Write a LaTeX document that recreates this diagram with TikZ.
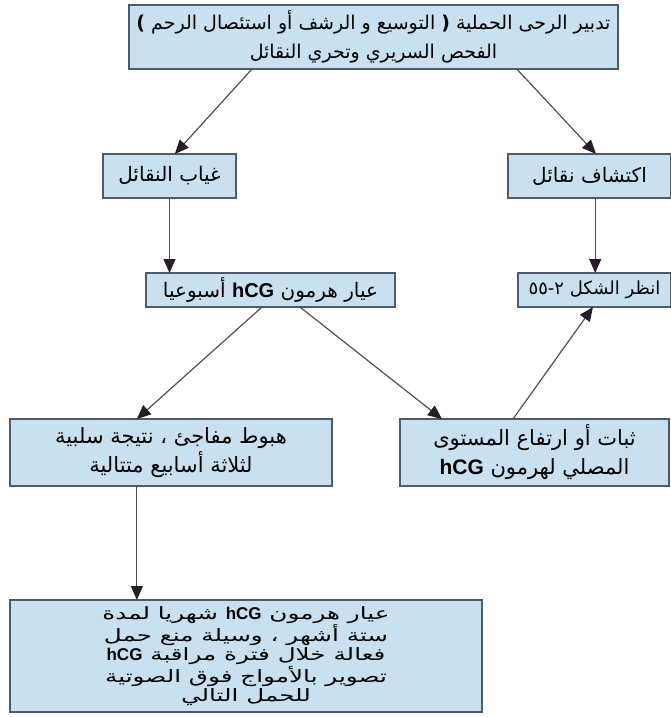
\documentclass[tikz,border=0pt]{standalone}
\usepackage{fontspec}
\setmainfont{DejaVu Sans}
\newfontfamily\arabicfont[Script=Arabic]{DejaVu Sans}
\newfontfamily\widearabic[Script=Arabic,FakeStretch=1.45]{DejaVu Sans}
\newfontfamily\latinsans{Liberation Sans}
\TeXXeTstate=1
\usetikzlibrary{arrows.meta,calc}

\definecolor{boxfill}{RGB}{200,224,239}
\definecolor{boxline}{RGB}{78,92,106}
\definecolor{linkline}{RGB}{80,80,84}
\definecolor{tipfill}{RGB}{40,28,40}

% right-to-left line and bold Latin hormone name
\newcommand\rl[1]{\beginR #1\endR}
\newcommand\hcg{\beginL{\latinsans\bfseries hCG}\endL}

\tikzset{
  flowbox/.style={draw=boxline, line width=1.3pt, fill=boxfill,
    inner sep=0pt, outer sep=0pt, anchor=north west, align=center},
  bigtext/.style={font=\arabicfont\fontsize{19}{29}\selectfont},
  midtext/.style={font=\arabicfont\fontsize{20}{29}\selectfont},
  pairtext/.style={font=\arabicfont\fontsize{21}{29}\selectfont},
  figtext/.style={font=\arabicfont\fontsize{18}{26}\selectfont},
  smalltext/.style={font=\widearabic\fontsize{17}{19.5}\selectfont},
  link/.style={draw=linkline, line width=1.2pt,
    -{Triangle[width=12pt,length=14pt,color=tipfill]}},
}

\begin{document}
\begin{tikzpicture}[x=1pt,y=-1pt]
\useasboundingbox (0,0) rectangle (670,717);

% boxes: top-left corner, then size
\node[flowbox, bigtext, minimum width=489pt, minimum height=64pt] (top) at (129,5)
  {\rl{تدبير الرحى الحملية {\bfseries (} التوسيع و الرشف أو استئصال الرحم {\bfseries )}}\\
   \rl{الفحص السريري وتحري النقائل}};

\node[flowbox, midtext, minimum width=133pt, minimum height=44pt] (absent) at (103,154)
  {\rl{غياب النقائل}};
\node[flowbox, midtext, minimum width=163pt, minimum height=44pt] (detect) at (508,154)
  {\rl{اكتشاف نقائل}};

\node[flowbox, midtext, minimum width=249pt, minimum height=34pt] (weekly) at (146,273)
  {\rl{عيار هرمون \hcg{} أسبوعيا}};
\node[flowbox, figtext, minimum width=153pt, minimum height=34pt] (seefig) at (518,273)
  {\rl{انظر الشكل \beginL ٢-٥٥\endL}};

\node[flowbox, pairtext, minimum width=322pt, minimum height=67pt] (drop) at (10,419)
  {\rl{هبوط مفاجئ ، نتيجة سلبية}\\ \rl{لثلاثة أسابيع متتالية}};
\node[flowbox, pairtext, minimum width=269pt, minimum height=67pt] (rise) at (400,419)
  {\rl{ثبات أو ارتفاع المستوى}\\ \rl{المصلي لهرمون \hcg}};

\node[flowbox, smalltext, minimum width=472pt, minimum height=112pt] (monthly) at (10,600)
  {\rl{عيار هرمون \hcg{} شهريا لمدة}\\
   \rl{ستة أشهر ، وسيلة منع حمل}\\
   \rl{فعالة خلال فترة مراقبة \hcg}\\
   \rl{تصوير بالأمواج فوق الصوتية}\\
   \rl{للحمل التالي}};

% connectors
\draw[link] ($(top.south west)!0.2515!(top.south east)$)
         -- ($(absent.north west)!0.54!(absent.north east)$);
\draw[link] ($(top.south west)!0.793!(top.south east)$)
         -- ($(detect.north west)!0.54!(detect.north east)$);

\draw[link] (absent.south) -- (absent.south |- weekly.north);
\coordinate (detectout) at ($(detect.south west)!0.535!(detect.south east)$);
\draw[link] (detectout) -- (detectout |- seefig.north);

\draw[link] ($(weekly.south west)!0.466!(weekly.south east)$)
         -- ($(drop.north west)!0.394!(drop.north east)$);
\draw[link] ($(weekly.south west)!0.618!(weekly.south east)$)
         -- ($(rise.north west)!0.156!(rise.north east)$);
\draw[link] ($(rise.north west)!0.42!(rise.north east)$)
         -- ($(seefig.south west)!0.49!(seefig.south east)$);

\coordinate (dropout) at ($(drop.south west)!0.394!(drop.south east)$);
\draw[link] (dropout) -- (dropout |- monthly.north);
\end{tikzpicture}
\end{document}
